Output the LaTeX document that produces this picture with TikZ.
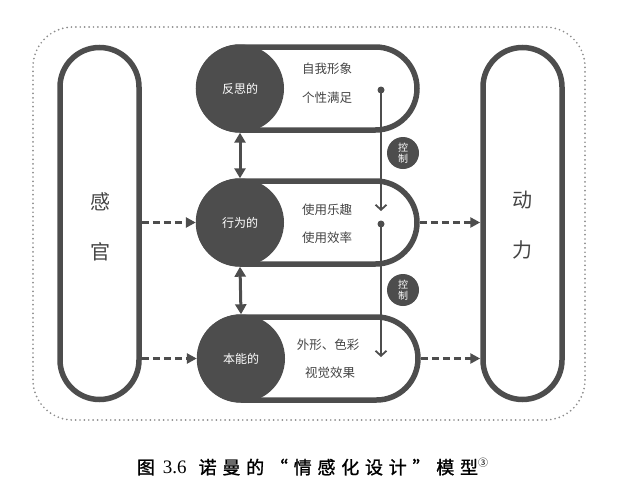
\documentclass[tikz,border=0pt]{standalone}
\usepackage{fontspec}
\newfontfamily\cjk{Noto Sans CJK SC}
\newfontfamily\capfont{Noto Sans CJK SC}[FakeBold=1.2]
\newfontfamily\capdig{Liberation Serif}
\usetikzlibrary{arrows.meta}
\definecolor{dk}{RGB}{77,77,77}
\definecolor{txt}{RGB}{68,68,68}
\definecolor{dotc}{RGB}{140,140,140}
\begin{document}
\begin{tikzpicture}[x=1pt,y=-1pt,
 pill/.style={draw=dk, line width=5.5pt, rounded corners=39.5pt, minimum width=79pt, minimum height=352pt, inner sep=0},
 capsule/.style={draw=dk, line width=5.5pt, rounded corners=41.5pt, minimum width=218.5pt, minimum height=83pt, inner sep=0},
 lvl/.style={circle, fill=dk, minimum size=88pt, inner sep=0, text=white, font=\cjk\fontsize{12}{14}\selectfont},
 lab/.style={text=txt, font=\cjk\fontsize{12.5}{14}\selectfont, inner sep=0},
 big/.style={text=txt, font=\cjk\fontsize{20}{24}\selectfont, inner sep=0},
 ctl/.style={circle, fill=dk, minimum size=32pt, inner sep=0, text=white, align=center, font=\cjk\fontsize{10}{11.5}\selectfont},
 dotnode/.style={circle, fill=dk, minimum size=7pt, inner sep=0},
 dasharrow/.style={draw=dk, line width=3pt, dash pattern=on 7pt off 4pt, -{Triangle[length=10pt,width=10pt]}},
 dblarrow/.style={draw=dk, line width=3pt, {Triangle[length=10pt,width=11pt]}-{Triangle[length=10pt,width=11pt]}},
 ctlarrow/.style={draw=dk, line width=1.8pt, -{Straight Barb[length=5pt,width=11pt]}},
]
\useasboundingbox (0,0) rectangle (618,490);
% dotted frame
\draw[dotc, line width=1.9pt, line cap=round, dash pattern=on 0pt off 4.4pt, rounded corners=40pt] (33,27) rectangle (585,420);
% pills
\node[pill] (sense) at (99.5,223.5) {};
\node[pill] (motive) at (522.5,223.5) {};
\node[big] (s1) at (100,202) {感};
\node[big] (s2) at (100,252) {官};
\node[big] (m1) at (522,200) {动};
\node[big] (m2) at (522,250) {力};
% capsules
\node[capsule] (capR) at (307.75,88.5) {};
\node[capsule] (capB) at (307.75,222.5) {};
\node[capsule] (capI) at (308.75,358.5) {};
% level circles
\node[lvl] (refl) at (240,88.5) {反思的};
\node[lvl] (beh) at (240,222.5) {行为的};
\node[lvl] (inst) at (241,358.5) {本能的};
% labels
\node[lab] (r1) at (327,69) {自我形象};
\node[lab] (r2) at (327,98) {个性满足};
\node[lab] (b1) at (327,210) {使用乐趣};
\node[lab] (b2) at (327,238) {使用效率};
\node[lab] (i1) at (328,345) {外形、色彩};
\node[lab] (i2) at (330,373) {视觉效果};
% double arrows
\draw[dblarrow] (refl.south) -- (beh.north);
\draw[dblarrow] (beh.south) -- (inst.north);
% dashed arrows
\draw[dasharrow] (sense.east |- beh.west) -- (beh.west);
\draw[dasharrow] (sense.east |- inst.west) -- (inst.west);
\draw[dasharrow] (capB.east) -- (motive.west |- capB.east);
\draw[dasharrow] (capI.east) -- (motive.west |- capI.east);
% control arrows
\node[dotnode] (d1) at (381,90) {};
\node[dotnode] (d2) at (381,224) {};
\coordinate (e1) at (381,211);
\coordinate (e2) at (381,357);
\draw[ctlarrow] (d1.center) -- (e1);
\draw[ctlarrow] (d2.center) -- (e2);
\node[ctl] (c1) at (403,153) {控\\制};
\node[ctl] (c2) at (403,290) {控\\制};
% caption
\node[inner sep=0, font=\capfont\fontsize{18}{20}\selectfont] (cap) at (312.5,467)
 {\addfontfeature{LetterSpace=32}图\hspace{8pt}{\capdig\fontsize{19}{20}\selectfont 3.6}\hspace{12pt}诺曼的“情感化设计”模型{\cjk\fontsize{10}{10}\selectfont\raisebox{7pt}{③}}};
\end{tikzpicture}
\end{document}
